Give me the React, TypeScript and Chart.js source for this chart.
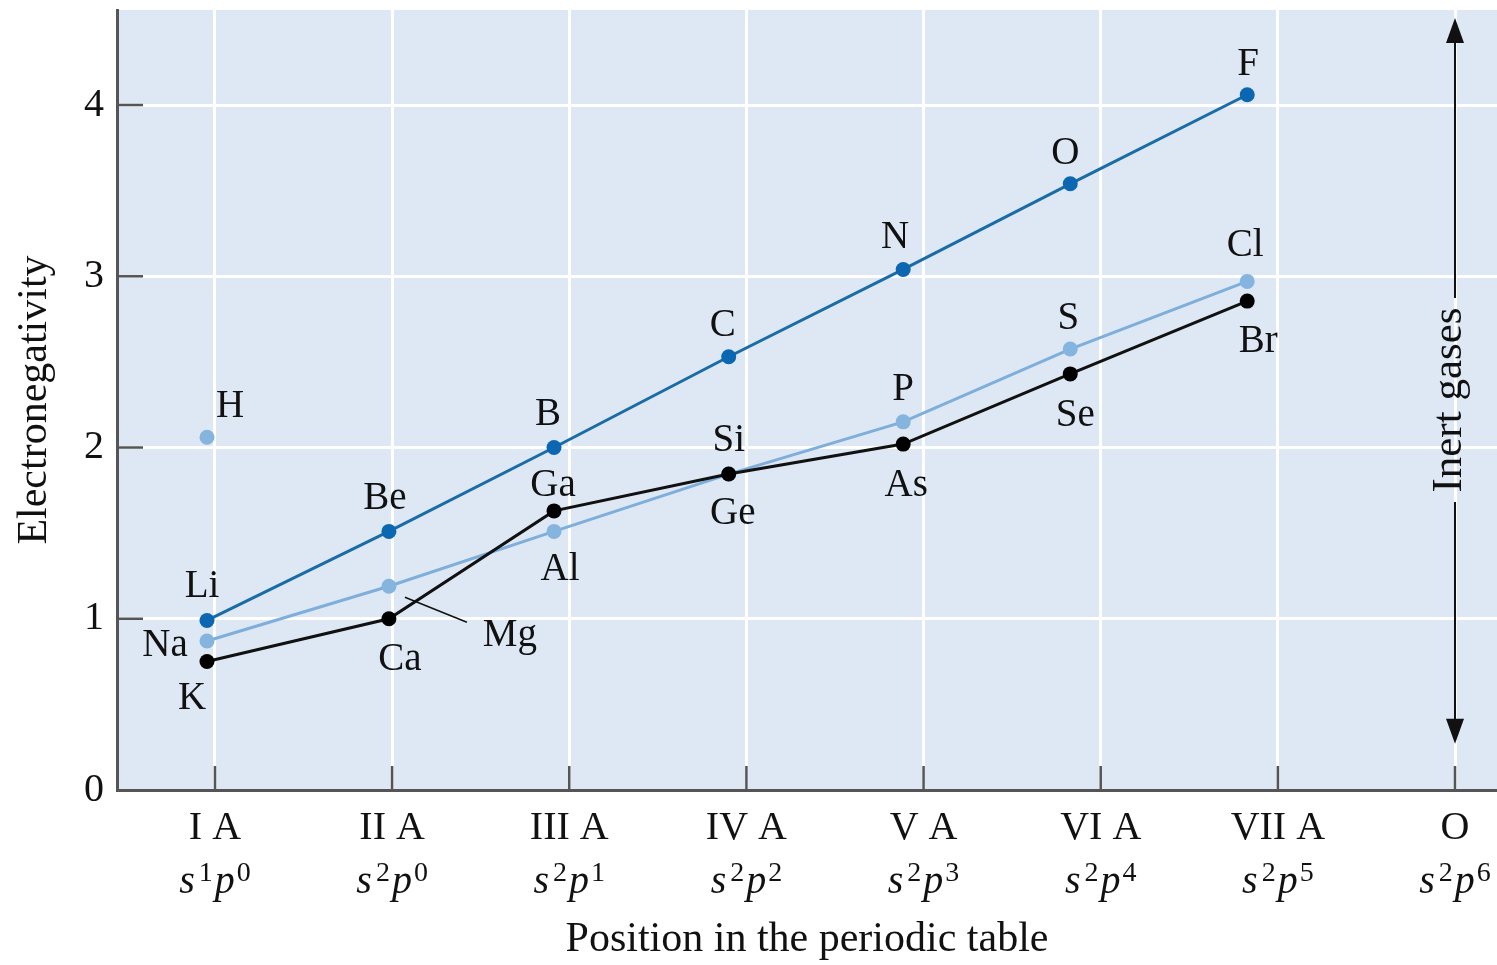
import React, { useEffect, useRef } from 'react';
import { Chart, registerables } from 'chart.js';

Chart.register(...registerables);

// ---------- data ----------
const groupLabels = ['I A', 'II A', 'III A', 'IV A', 'V A', 'VI A', 'VII A', 'O'];
const sSuperscripts = ['1', '2', '2', '2', '2', '2', '2', '2'];
const pSuperscripts = ['0', '0', '1', '2', '3', '4', '5', '6'];
const yTickValues = [0, 1, 2, 3, 4];

// horizontal position of the plotted points (group number, as drawn in the figure)
const pointPositions = [0.955, 1.982, 2.914, 3.9, 4.885, 5.828, 6.827];

const period2Elements = ['Li', 'Be', 'B', 'C', 'N', 'O', 'F'];
const period2Values = [0.99, 1.51, 2.0, 2.53, 3.04, 3.54, 4.06];

const period3Elements = ['Na', 'Mg', 'Al', 'Si', 'P', 'S', 'Cl'];
const period3Values = [0.87, 1.19, 1.51, 1.845, 2.15, 2.575, 2.97];

const period4Elements = ['K', 'Ca', 'Ga', 'Ge', 'As', 'Se', 'Br'];
const period4Values = [0.75, 1.0, 1.63, 1.845, 2.02, 2.43, 2.855];

const hydrogenElements = ['H'];
const hydrogenPositions = [0.955];
const hydrogenValues = [2.06];

// ---------- styles ----------
const FONT = "'Liberation Serif', 'Times New Roman', serif";
const TEXT = '#111111';
const PLOT_BG = '#dee8f4';

// label offsets in px relative to the point (label visual centre)
const labelOffsets: Record<string, [number, number]> = {
  Li: [-5, -36], Be: [-4, -35], B: [-6, -36], C: [-6, -34], N: [-8, -34], O: [-5, -33], F: [1, -33],
  H: [23, -33],
  Na: [-42, 2], Mg: [121, 47], Al: [6, 36], Si: [0, -36], P: [0, -35], S: [-2, -33], Cl: [-2, -38],
  K: [-15, 34], Ca: [11, 38], Ga: [-1, -28], Ge: [4, 37], As: [3, 39], Se: [5, 39], Br: [11, 38],
};
const leaderLines: Record<string, [number, number, number, number]> = {
  Mg: [16, 11, 78, 36],
};

function makeSeries(names: string[], xs: number[], ys: number[], line: string, point: string, order: number, showLine = true) {
  return {
    data: ys.map((y, i) => ({ x: xs[i], y })),
    elementNames: names,
    borderColor: line,
    backgroundColor: point,
    pointBackgroundColor: point,
    pointBorderColor: point,
    pointRadius: 7.5,
    pointBorderWidth: 0,
    borderWidth: 3,
    showLine,
    tension: 0,
    order,
  } as any;
}

const backgroundPlugin = {
  id: 'plotBackground',
  beforeDraw(chart: any) {
    const { ctx, chartArea: a } = chart;
    ctx.save();
    ctx.fillStyle = PLOT_BG;
    ctx.fillRect(a.left, a.top, a.right - a.left, a.bottom - a.top);
    ctx.restore();
  },
  beforeDatasetsDraw(chart: any) {
    const { ctx, chartArea: a, scales } = chart;
    ctx.save();
    ctx.strokeStyle = '#555';
    ctx.lineWidth = 2.5;
    yTickValues.forEach((v) => {
      if (v === 0) return;
      const y = scales.y.getPixelForValue(v);
      ctx.beginPath();
      ctx.moveTo(a.left, y);
      ctx.lineTo(a.left + 26, y);
      ctx.stroke();
    });
    groupLabels.forEach((_, i) => {
      const x = scales.x.getPixelForValue(i + 1);
      ctx.beginPath();
      ctx.moveTo(x, a.bottom);
      ctx.lineTo(x, a.bottom - 24);
      ctx.stroke();
    });
    ctx.restore();
  },
};

const overlayPlugin = {
  id: 'overlay',
  afterDraw(chart: any) {
    const { ctx, chartArea: a, scales } = chart;
    ctx.save();
    ctx.fillStyle = TEXT;
    ctx.strokeStyle = TEXT;

    // element labels
    ctx.font = `39px ${FONT}`;
    ctx.textAlign = 'center';
    ctx.textBaseline = 'alphabetic';
    chart.data.datasets.forEach((ds: any, di: number) => {
      const meta = chart.getDatasetMeta(di);
      meta.data.forEach((pt: any, i: number) => {
        const name = ds.elementNames[i];
        const off = labelOffsets[name] || [0, -34];
        ctx.fillText(name, pt.x + off[0], pt.y + off[1] + 13);
        const ll = leaderLines[name];
        if (ll) {
          ctx.lineWidth = 1.5;
          ctx.beginPath();
          ctx.moveTo(pt.x + ll[0], pt.y + ll[1]);
          ctx.lineTo(pt.x + ll[2], pt.y + ll[3]);
          ctx.stroke();
        }
      });
    });

    // electron configuration line under each group label
    const baseY = 893;
    groupLabels.forEach((_, i) => {
      const cx = scales.x.getPixelForValue(i + 1);
      const big = `italic 40px ${FONT}`;
      const small = `28px ${FONT}`;
      const parts: [string, string, number, number][] = [
        ['s', big, 0, 4],
        [sSuperscripts[i], small, -12, 2],
        ['p', big, 0, 2],
        [pSuperscripts[i], small, -12, 0],
      ];
      const widths = parts.map(([t, f]) => { ctx.font = f; return ctx.measureText(t).width; });
      const total = widths.reduce((s, w, k) => s + w + parts[k][3], 0);
      let x = cx - total / 2;
      ctx.textAlign = 'left';
      parts.forEach(([t, f, dy, g], k) => {
        ctx.font = f;
        ctx.fillText(t, x, baseY + dy);
        x += widths[k] + g;
      });
    });

    // inert gases arrow
    const ax = scales.x.getPixelForValue(8);
    const top = a.top + 8;
    const bottom = scales.y.getPixelForValue(0.27);
    const textY = 400;
    ctx.lineWidth = 2;
    ctx.beginPath();
    ctx.moveTo(ax, top + 20);
    ctx.lineTo(ax, textY - 102);
    ctx.moveTo(ax, textY + 102);
    ctx.lineTo(ax, bottom - 20);
    ctx.stroke();
    ctx.beginPath();
    ctx.moveTo(ax, top);
    ctx.lineTo(ax - 9, top + 25);
    ctx.lineTo(ax + 9, top + 25);
    ctx.closePath();
    ctx.fill();
    ctx.beginPath();
    ctx.moveTo(ax, bottom);
    ctx.lineTo(ax - 9, bottom - 25);
    ctx.lineTo(ax + 9, bottom - 25);
    ctx.closePath();
    ctx.fill();
    ctx.save();
    ctx.translate(ax - 8, textY);
    ctx.rotate(-Math.PI / 2);
    ctx.font = `43px ${FONT}`;
    ctx.textAlign = 'center';
    ctx.textBaseline = 'alphabetic';
    ctx.fillText('Inert gases', 0, 14);
    ctx.restore();

    ctx.restore();
  },
};

export default function App() {
  const canvasRef = useRef<HTMLCanvasElement>(null);

  useEffect(() => {
    document.body.style.margin = '0';
    const canvas = canvasRef.current;
    if (!canvas) return;
    const chart = new Chart(canvas, {
      type: 'line',
      data: {
        datasets: [
          makeSeries(period2Elements, pointPositions, period2Values, '#1a6ca6', '#0b67b2', 2),
          makeSeries(period3Elements, pointPositions, period3Values, '#7eaedb', '#85b4de', 1),
          makeSeries(period4Elements, pointPositions, period4Values, '#111111', '#000000', 0),
          makeSeries(hydrogenElements, hydrogenPositions, hydrogenValues, '#85b4de', '#85b4de', 1, false),
        ],
      },
      options: {
        responsive: false,
        animation: false,
        layout: { autoPadding: false, padding: { top: 10, left: 0, right: 0, bottom: 0 } },
        plugins: { legend: { display: false }, tooltip: { enabled: false } },
        scales: {
          x: {
            type: 'linear',
            min: 0.447,
            max: 8.237,
            afterBuildTicks: (s: any) => { s.ticks = groupLabels.map((_, i) => ({ value: i + 1 })); },
            afterFit: (s: any) => {
              s.height = 175;
              s.paddingLeft = 0;
              s.paddingRight = 0;
              s.paddingTop = 0;
              s.paddingBottom = 0;
            },
            grid: { color: '#ffffff', lineWidth: 3, drawTicks: false },
            border: { display: true, color: '#555555', width: 3 },
            ticks: {
              autoSkip: false,
              maxRotation: 0,
              padding: 14,
              color: TEXT,
              font: { family: FONT, size: 40 },
              callback: (v: any) => groupLabels[Math.round(Number(v)) - 1] ?? '',
            },
            title: {
              display: true,
              text: 'Position in the periodic table',
              color: TEXT,
              font: { family: FONT, size: 42 },
              padding: { top: 0, bottom: 0 },
            },
          },
          y: {
            min: 0,
            max: 4.555,
            afterBuildTicks: (s: any) => { s.ticks = yTickValues.map((v) => ({ value: v })); },
            afterFit: (s: any) => {
              s.width = 117;
              s.paddingLeft = 0;
              s.paddingRight = 0;
              s.paddingTop = 0;
              s.paddingBottom = 0;
            },
            grid: {
              color: (c: any) => (c.tick && c.tick.value === 0 ? 'rgba(0,0,0,0)' : '#ffffff'),
              lineWidth: 3,
              drawTicks: false,
            },
            border: { display: true, color: '#555555', width: 3 },
            ticks: {
              padding: 13,
              color: TEXT,
              font: { family: FONT, size: 40 },
              callback: (v: any) => String(v),
            },
            title: {
              display: true,
              text: 'Electronegativity',
              color: TEXT,
              font: { family: FONT, size: 42 },
              padding: { top: 10, bottom: 0 },
            },
          },
        },
      } as any,
      plugins: [backgroundPlugin, overlayPlugin],
    });
    return () => chart.destroy();
  }, []);

  return (
    <div style={{ width: 1497, height: 965 }}>
      <canvas ref={canvasRef} width={1497} height={965} style={{ display: 'block' }} />
    </div>
  );
}
